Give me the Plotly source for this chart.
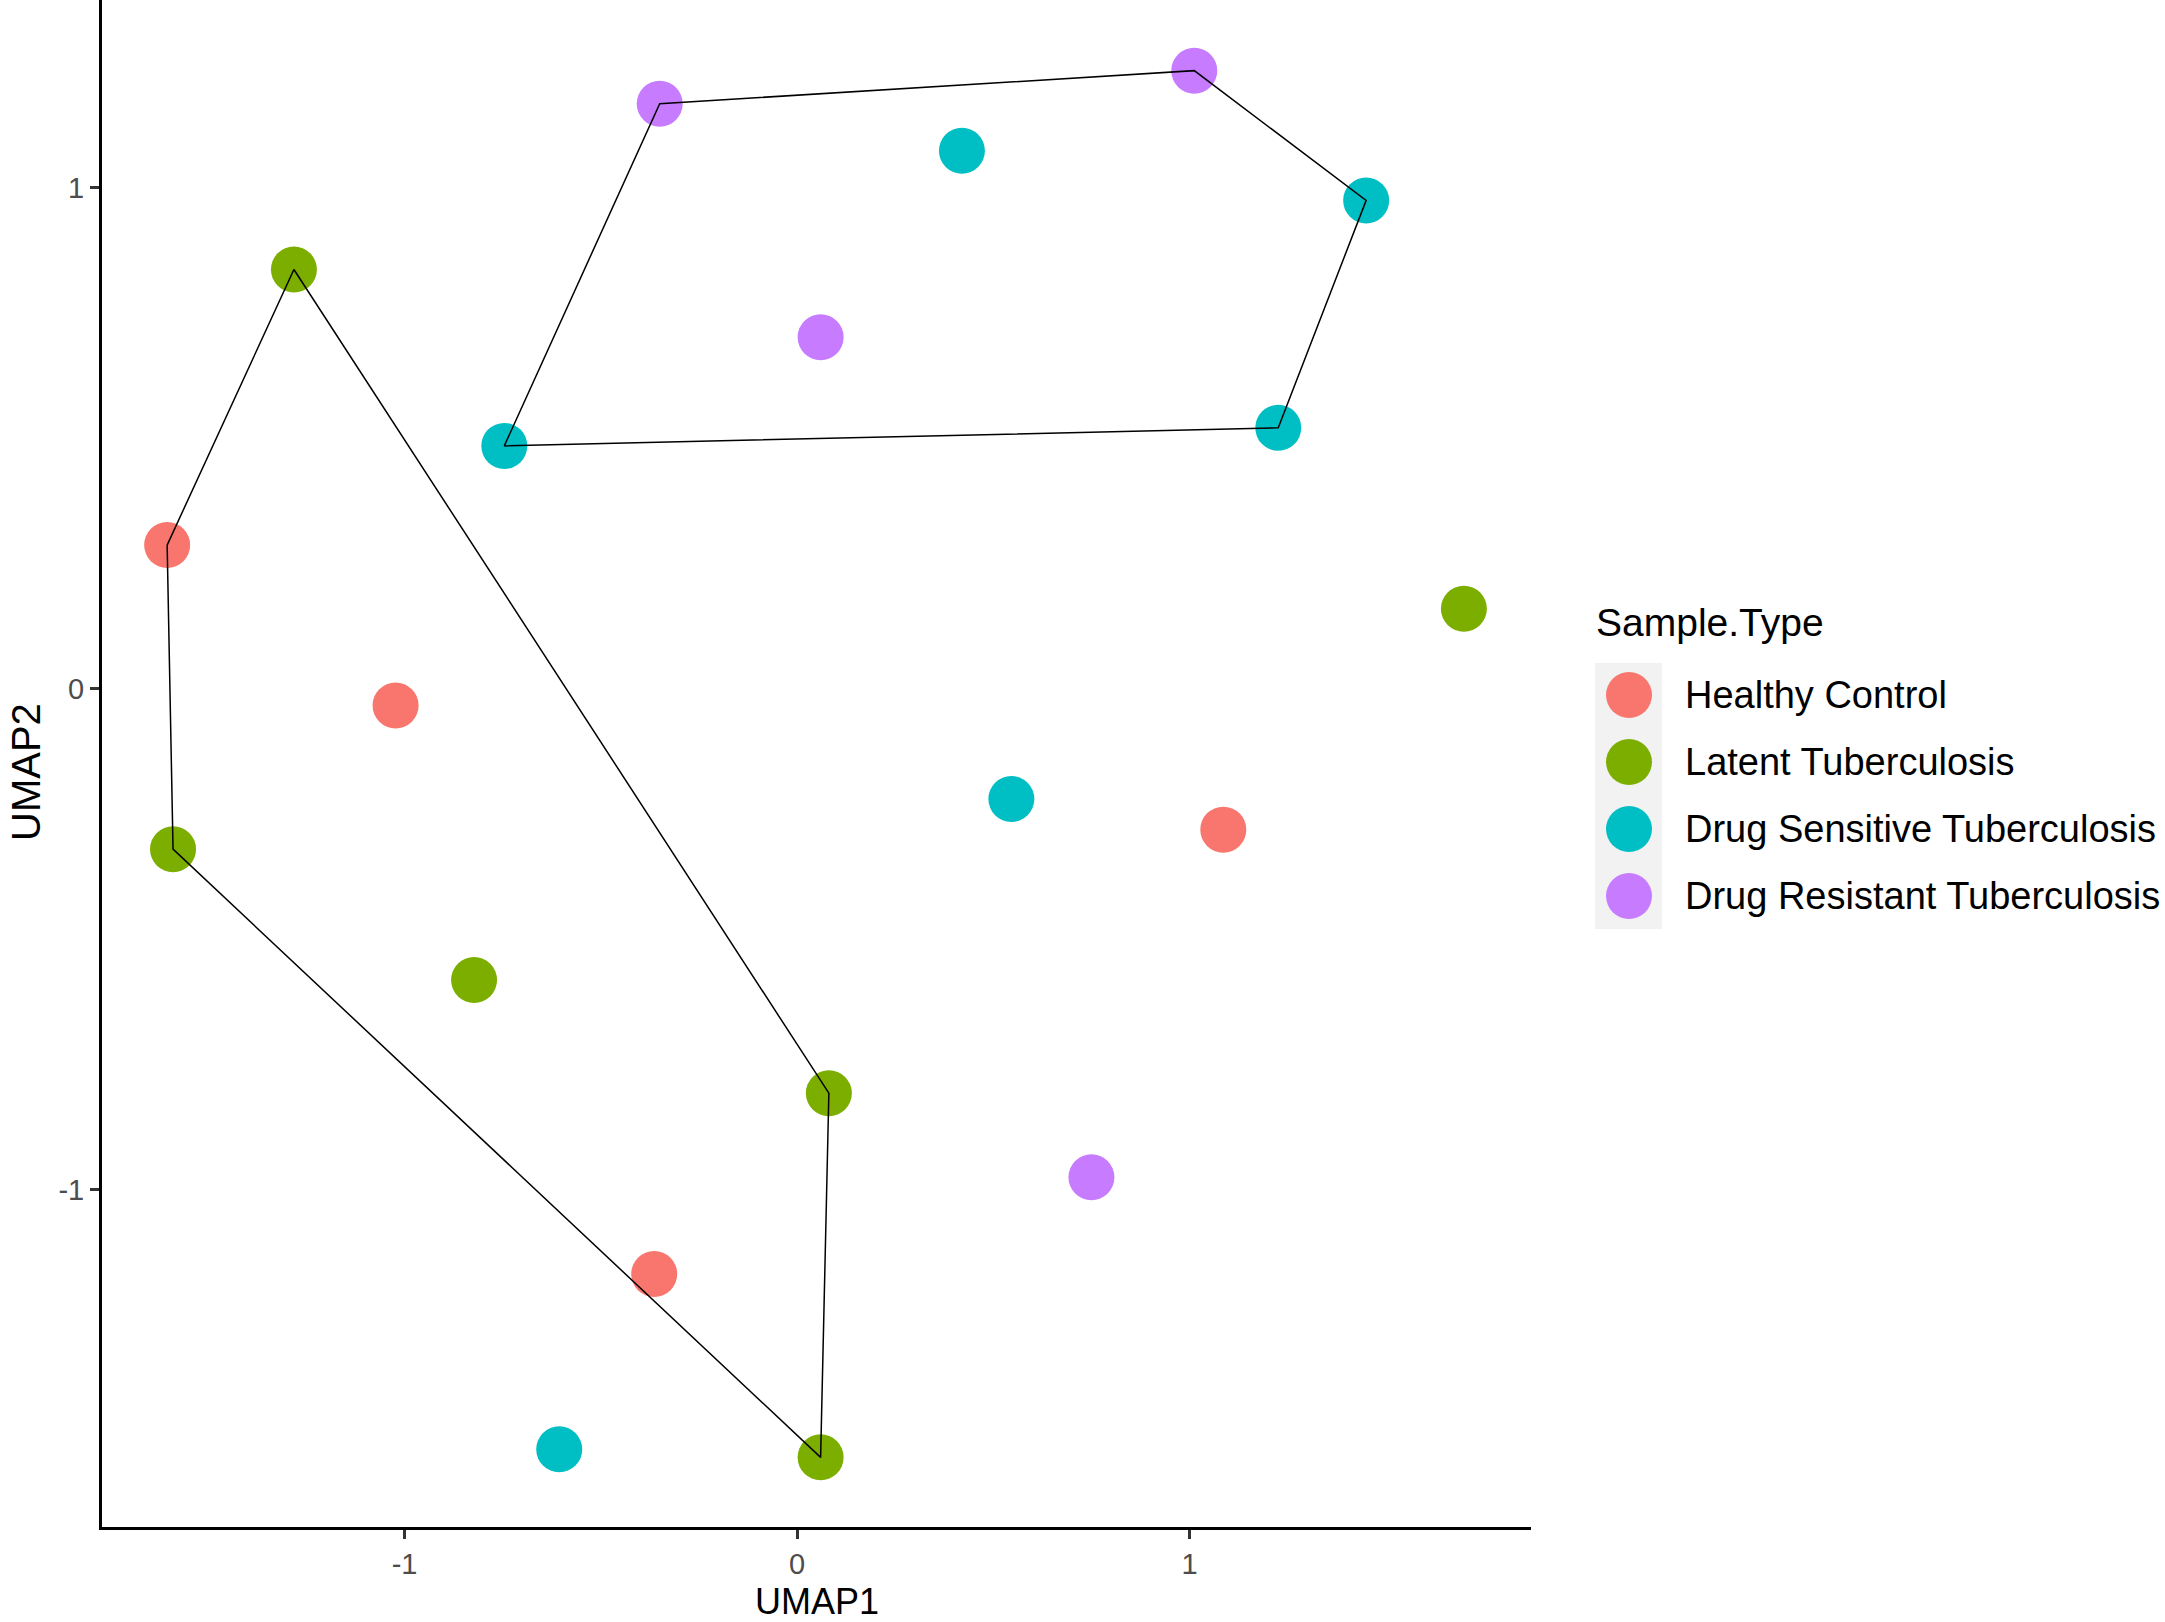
import plotly.graph_objects as go

# UMAP coordinates
umap1 = [-0.350, 1.012, 0.420, 1.450, -1.282, 0.060, -0.746, 1.226, -1.605, 1.699,
         -1.023, 0.546, 1.086, -1.590, -0.823, 0.081, 0.750, -0.364, -0.606, 0.060]
umap2 = [1.168, 1.234, 1.074, 0.975, 0.837, 0.702, 0.485, 0.521, 0.287, 0.160,
         -0.033, -0.220, -0.281, -0.320, -0.581, -0.807, -0.975, -1.168, -1.518, -1.534]
sample_type = ["DR", "DR", "DS", "DS", "LT", "DR", "DS", "DS", "HC", "LT",
               "HC", "DS", "HC", "LT", "LT", "LT", "DR", "HC", "DS", "LT"]
# which hull each sample belongs to (None = no hull)
cluster = ["A", "A", "A", "A", "B", "A", "A", "A", "B", None,
           "B", None, None, "B", "B", "B", None, "B", None, "B"]

type_codes = ["HC", "LT", "DS", "DR"]
type_labels = ["Healthy Control", "Latent Tuberculosis",
               "Drug Sensitive Tuberculosis", "Drug Resistant Tuberculosis"]
type_colors = ["#F8766D", "#7CAE00", "#00BFC4", "#C77CFF"]

x_ticks = [-1, 0, 1]
y_ticks = [-1, 0, 1]
tick_text = ["-1", "0", "1"]

FONT = "Liberation Sans, Arial, sans-serif"
W, H = 2165, 1622
L, R, T, B = 102, 634, 0, 95
PW, PH = W - L - R, H - T - B


def px_x(px):
    return (px - L) / PW


def px_y(py):
    return 1 - (py - T) / PH


def convex_hull(pts):
    pts = sorted(set(pts))
    if len(pts) < 3:
        return pts

    def cross(o, a, b):
        return (a[0] - o[0]) * (b[1] - o[1]) - (a[1] - o[1]) * (b[0] - o[0])

    lower, upper = [], []
    for p in pts:
        while len(lower) >= 2 and cross(lower[-2], lower[-1], p) <= 0:
            lower.pop()
        lower.append(p)
    for p in reversed(pts):
        while len(upper) >= 2 and cross(upper[-2], upper[-1], p) <= 0:
            upper.pop()
        upper.append(p)
    return lower[:-1] + upper[:-1]


fig = go.Figure()

for code, label, color in zip(type_codes, type_labels, type_colors):
    xs = [x for x, t in zip(umap1, sample_type) if t == code]
    ys = [y for y, t in zip(umap2, sample_type) if t == code]
    fig.add_trace(go.Scatter(x=xs, y=ys, mode="markers", name=label,
                             marker=dict(color=color, size=46, line=dict(width=0)),
                             showlegend=False))

for c in ["A", "B"]:
    pts = [(x, y) for x, y, k in zip(umap1, umap2, cluster) if k == c]
    hull = convex_hull(pts)
    hull.append(hull[0])
    fig.add_trace(go.Scatter(x=[p[0] for p in hull], y=[p[1] for p in hull],
                             mode="lines", line=dict(color="black", width=1.5),
                             hoverinfo="skip", showlegend=False))

# hand-built legend in ggplot style
shapes = [dict(type="rect", xref="paper", yref="paper",
               x0=px_x(1595), x1=px_x(1662), y0=px_y(929), y1=px_y(663),
               fillcolor="#F2F2F2", line=dict(width=0), layer="below")]
annotations = [dict(text="Sample.Type", xref="paper", yref="paper",
                    x=px_x(1594), y=px_y(622), xanchor="left", yanchor="middle",
                    showarrow=False, font=dict(family=FONT, size=39, color="black"))]
key_y = [695, 762, 829, 896]
for ky, label, color in zip(key_y, type_labels, type_colors):
    shapes.append(dict(type="circle", xref="paper", yref="paper",
                       xsizemode="pixel", ysizemode="pixel",
                       xanchor=px_x(1629), yanchor=px_y(ky),
                       x0=-23, x1=23, y0=-23, y1=23,
                       fillcolor=color, line=dict(width=0)))
    annotations.append(dict(text=label, xref="paper", yref="paper",
                            x=px_x(1683), y=px_y(ky), xanchor="left", yanchor="middle",
                            showarrow=False,
                            font=dict(family=FONT, size=38, color="black")))

# axis titles
annotations.append(dict(text="UMAP1", xref="paper", yref="paper", x=0.5, y=0,
                        xanchor="center", yanchor="top", yshift=-52,
                        showarrow=False, font=dict(family=FONT, size=36, color="black")))
annotations.append(dict(text="UMAP2", xref="paper", yref="paper", x=0, y=px_y(772),
                        xanchor="right", yanchor="middle", xshift=-52, textangle=-90,
                        showarrow=False, font=dict(family=FONT, size=40, color="black")))

axis_common = dict(showgrid=False, zeroline=False, showline=True, linecolor="black",
                   linewidth=3, ticks="outside", ticklen=9, tickwidth=2.5,
                   tickcolor="#333333", ticktext=tick_text,
                   tickfont=dict(family=FONT, size=29, color="#4D4D4D"))

fig.update_layout(
    width=W, height=H,
    margin=dict(l=L, r=R, t=T, b=B),
    paper_bgcolor="white", plot_bgcolor="white",
    shapes=shapes, annotations=annotations,
    xaxis=dict(range=[-1.771, 1.870], tickvals=x_ticks, **axis_common),
    yaxis=dict(range=[-1.673, 1.375], tickvals=y_ticks, **axis_common),
)

fig.write_html("out.html", config={"displayModeBar": False},
               post_script="document.body.style.margin='0';")
